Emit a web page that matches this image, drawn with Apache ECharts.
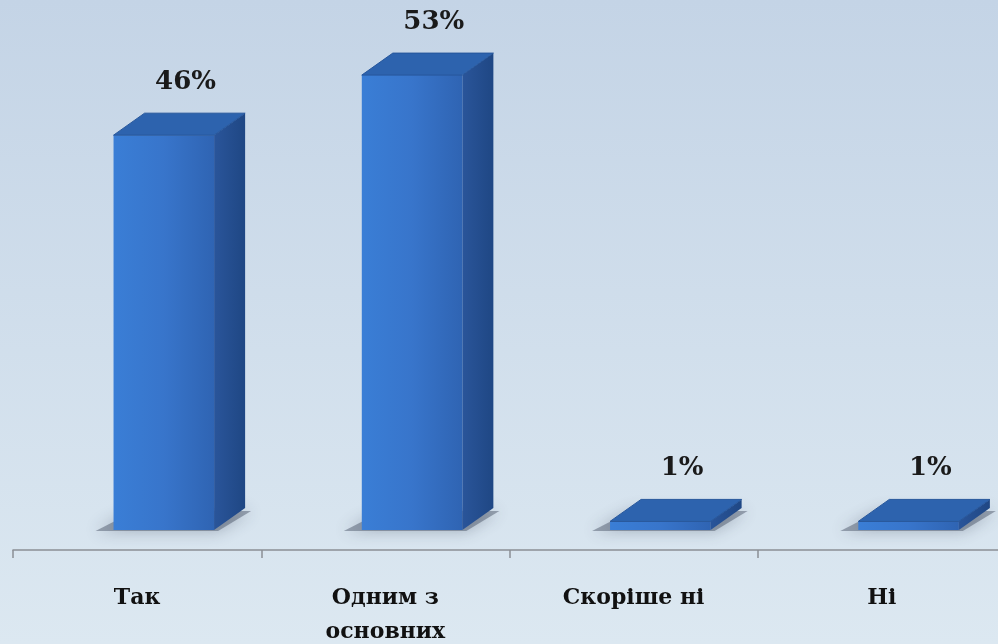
<!DOCTYPE html>
<html>
<head>
<meta charset="utf-8">
<script src="https://cdn.jsdelivr.net/npm/echarts@6/dist/echarts.min.js"></script>
<style>
html,body{margin:0;padding:0;width:998px;height:644px;overflow:hidden;}
#chart{width:998px;height:644px;}
</style>
</head>
<body>
<div id="chart"></div>
<script>
const categories = ['Так', 'Одним з\nосновних', 'Скоріше ні', 'Ні'];
const values = [46, 53, 1, 1];

const chart = echarts.init(document.getElementById('chart'), null, {renderer: 'canvas'});

function renderBar(params, api) {
  const idx = api.value(0);
  const val = api.value(1);
  const base = api.coord([idx, 0]);
  const top = api.coord([idx, val]);
  const band = api.size([1, 0])[0];
  const w = band * 0.405;
  const x0 = base[0] - band * 0.095;
  const x1 = x0 + w;
  const yb = base[1];
  let yt = top[1];
  if (yb - yt < 3) yt = yb - 3;
  const dx = band * 0.125, dy = 22;
  const children = [];
  // base shadow
  children.push({
    type: 'polygon',
    shape: {points: [[x0 - 18, yb + 1], [x1 + 4, yb + 1], [x1 + dx + 6, yb - dy + 3], [x0 + dx - 10, yb - dy + 3]]},
    style: {fill: 'rgba(50,60,80,0.4)', shadowBlur: 16, shadowColor: 'rgba(50,60,80,0.8)'},
    silent: true
  });
  // side face
  children.push({
    type: 'polygon',
    shape: {points: [[x1, yt], [x1 + dx, yt - dy], [x1 + dx, yb - dy], [x1, yb]]},
    style: {fill: {type: 'linear', x: 0, y: 0, x2: 1, y2: 0, colorStops: [
      {offset: 0, color: '#2a559a'}, {offset: 1, color: '#1f4784'}]}}
  });
  // front face
  children.push({
    type: 'rect',
    shape: {x: x0, y: yt, width: w, height: yb - yt},
    style: {fill: {type: 'linear', x: 0, y: 0, x2: 1, y2: 0, colorStops: [
      {offset: 0, color: '#3a7ed6'}, {offset: 0.5, color: '#3875cb'}, {offset: 1, color: '#2f64b3'}]}}
  });
  // top face
  children.push({
    type: 'polygon',
    shape: {points: [[x0, yt], [x1, yt], [x1 + dx, yt - dy], [x0 + dx, yt - dy]]},
    style: {fill: '#2d63ae', stroke: '#27579c', lineWidth: 1}
  });
  // value label
  children.push({
    type: 'text',
    x: (x0 + x1) / 2 + dx * 0.7,
    y: yt - dy - 31,
    style: {
      text: val + '%',
      fill: '#1a1a1a',
      font: 'bold 26px "DejaVu Serif", serif',
      align: 'center',
      verticalAlign: 'middle'
    }
  });
  return {type: 'group', children: children};
}

chart.setOption({
  animation: false,
  backgroundColor: {
    type: 'linear', x: 0, y: 0, x2: 0, y2: 1,
    colorStops: [{offset: 0, color: '#c4d4e6'}, {offset: 1, color: '#dce8f1'}]
  },
  grid: {left: 13, right: -8, top: 15, bottom: 94, containLabel: false, outerBoundsMode: 'none'},
  xAxis: {
    type: 'category',
    data: categories,
    axisLine: {onZero: false, lineStyle: {color: '#8a8f95', width: 1.5}},
    axisTick: {show: true, length: 8, lineStyle: {color: '#8a8f95', width: 1.5}},
    axisLabel: {
      interval: 0,
      margin: 31,
      color: '#111',
      fontFamily: '"DejaVu Serif", serif',
      fontWeight: 'bold',
      fontSize: 22,
      lineHeight: 34
    }
  },
  yAxis: {type: 'value', min: -2.33, max: 60, show: false},
  series: [{
    type: 'custom',
    renderItem: renderBar,
    data: values.map((v, i) => [i, v]),
    clip: false
  }]
});
</script>
</body>
</html>
